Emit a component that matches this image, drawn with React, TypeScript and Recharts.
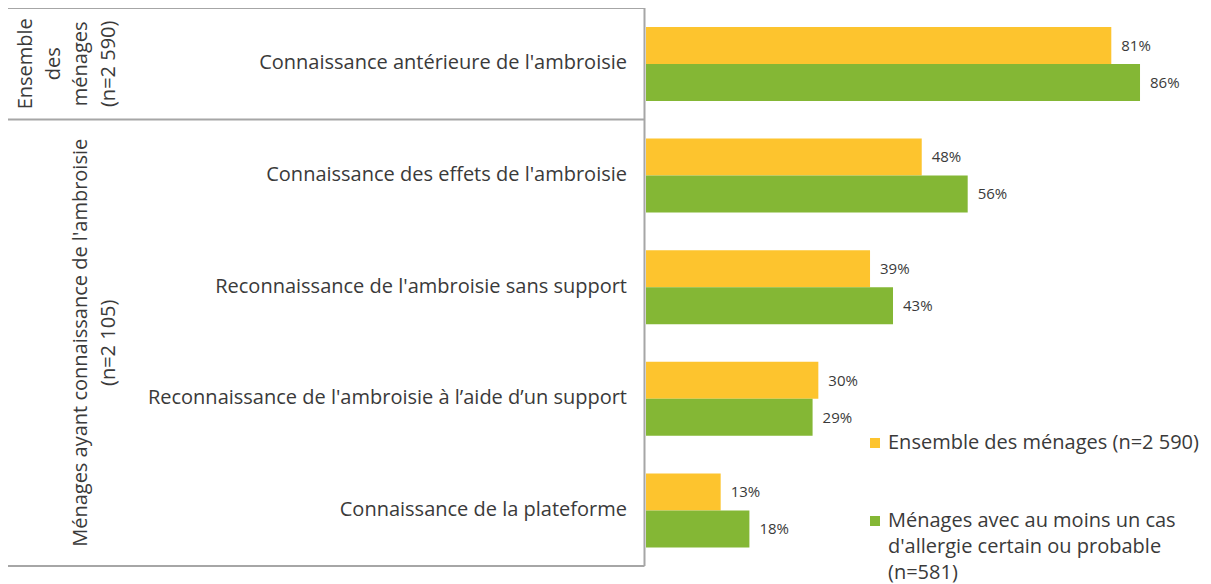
import { BarChart, Bar, XAxis, YAxis, LabelList, Legend } from "recharts";

const categories = [
  "Connaissance antérieure de l'ambroisie",
  "Connaissance des effets de l'ambroisie",
  "Reconnaissance de l'ambroisie sans support",
  "Reconnaissance de l'ambroisie à l’aide d’un support",
  "Connaissance de la plateforme",
];
const ensembleValues = [81, 48, 39, 30, 13];
const allergieValues = [86, 56, 43, 29, 18];

const ensembleName = "Ensemble des ménages (n=2 590)";
const allergieName = "Ménages avec au moins un cas d'allergie certain ou probable (n=581)";
const legendLines: Record<string, string[]> = {
  [ensembleName]: ["Ensemble des ménages (n=2 590)"],
  [allergieName]: ["Ménages avec au moins un cas", "d'allergie certain ou probable", "(n=581)"],
};

const groupLabels = [
  { lines: ["Ensemble", "des", "ménages", "(n=2 590)"], first: 0, count: 1, cx: 58, step: 27.4 },
  { lines: ["Ménages ayant connaissance de l'ambroisie", "(n=2 105)"], first: 1, count: 4, cx: 86, step: 28 },
];

const YELLOW = "#fdc42e";
const GREEN = "#84b735";
const TEXT = "#3a3a3a";
const FRAME = "#a6a6a6";

const W = 1203;
const H = 577;
const MARGIN = { top: 1, right: 48, bottom: 18, left: 0 };
const AXIS_W = 638;

const data = categories.map((cat, i) => ({
  cat,
  ensemble: ensembleValues[i],
  allergie: allergieValues[i],
}));

const CategoryTick = (props: any) => {
  const { x, y, payload } = props;
  return (
    <text x={x} y={y - 2} textAnchor="end" dominantBaseline="central" fontSize={20} fill={TEXT}>
      {payload.value}
    </text>
  );
};

const LegendContent = ({ payload }: any) => (
  <div style={{ display: "flex", flexDirection: "column", gap: 52 }}>
    {(payload || []).map((p: any) => (
      <div key={p.value} style={{ display: "flex", alignItems: "flex-start" }}>
        <span
          style={{
            width: 10,
            height: 10,
            background: p.color,
            marginTop: 9,
            marginRight: 8,
            flexShrink: 0,
          }}
        />
        <div style={{ fontSize: 20, lineHeight: "26px", color: TEXT, whiteSpace: "nowrap" }}>
          {(legendLines[p.value] || [p.value]).map((l) => (
            <div key={l}>{l}</div>
          ))}
        </div>
      </div>
    ))}
  </div>
);

export default function App() {
  const plotTop = MARGIN.top;
  const plotH = H - MARGIN.top - MARGIN.bottom;
  const band = plotH / categories.length;
  const lineEnd = AXIS_W - 1.5;

  return (
    <div
      style={{
        position: "relative",
        width: W,
        height: H,
        marginTop: -1,
        fontFamily: "'Open Sans', 'Noto Sans', sans-serif",
      }}
    >
      <BarChart
        width={W}
        height={H}
        data={data}
        layout="vertical"
        margin={MARGIN}
        barGap={0}
        barSize={37}
      >
        <XAxis type="number" domain={[0, 90]} hide />
        <YAxis
          type="category"
          dataKey="cat"
          width={AXIS_W}
          axisLine={false}
          tickLine={false}
          tickSize={0}
          tickMargin={19}
          tick={<CategoryTick />}
          interval={0}
        />
        <Bar dataKey="ensemble" name={ensembleName} fill={YELLOW} isAnimationActive={false}>
          <LabelList
            dataKey="ensemble"
            position="right"
            offset={10}
            fontSize={15}
            fill={TEXT}
            formatter={(v: any) => `${v}%`}
          />
        </Bar>
        <Bar dataKey="allergie" name={allergieName} fill={GREEN} isAnimationActive={false}>
          <LabelList
            dataKey="allergie"
            position="right"
            offset={10}
            fontSize={15}
            fill={TEXT}
            formatter={(v: any) => `${v}%`}
          />
        </Bar>
        <Legend
          layout="horizontal"
          verticalAlign="middle"
          align="center"
          content={<LegendContent />}
          wrapperStyle={{ position: "absolute", left: 862, top: 422, width: 340 }}
        />
      </BarChart>

      {/* frame and group labels */}
      <svg
        width={W}
        height={H}
        style={{ position: "absolute", left: 0, top: 0, pointerEvents: "none" }}
      >
        <line x1={0} x2={lineEnd} y1={plotTop} y2={plotTop} stroke={FRAME} strokeWidth={2} />
        <line x1={0} x2={lineEnd} y1={plotTop + plotH} y2={plotTop + plotH} stroke={FRAME} strokeWidth={2} />
        <line x1={lineEnd} x2={lineEnd} y1={plotTop} y2={plotTop + plotH} stroke={FRAME} strokeWidth={2} />
        {groupLabels.slice(1).map((g) => (
          <line
            key={g.first}
            x1={0}
            x2={lineEnd}
            y1={plotTop + g.first * band}
            y2={plotTop + g.first * band}
            stroke={FRAME}
            strokeWidth={2}
          />
        ))}
        {groupLabels.map((g) => {
          const cy = plotTop + (g.first + g.count / 2) * band;
          const x0 = g.cx - ((g.lines.length - 1) * g.step) / 2;
          return g.lines.map((l, i) => {
            const x = x0 + i * g.step;
            return (
              <text
                key={l}
                x={x}
                y={cy}
                transform={`rotate(-90 ${x} ${cy})`}
                textAnchor="middle"
                dominantBaseline="central"
                fontSize={20}
                fill={TEXT}
              >
                {l}
              </text>
            );
          });
        })}
      </svg>
    </div>
  );
}
